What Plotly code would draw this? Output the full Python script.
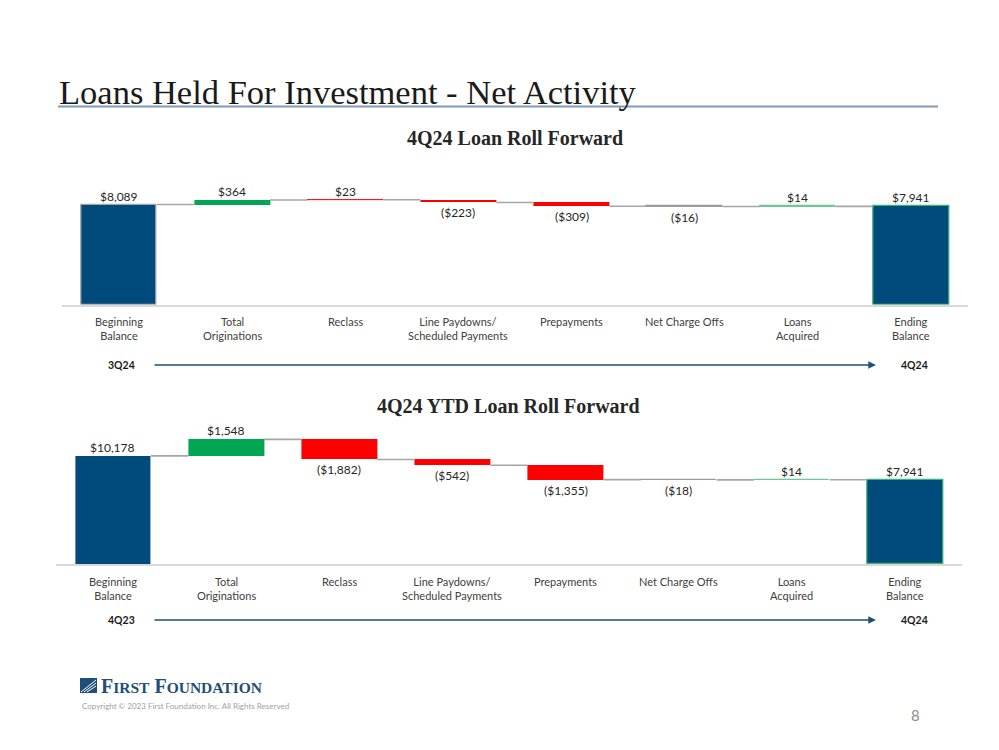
import plotly.graph_objects as go

# ---------------- data ----------------
categories = ["Beginning<br>Balance", "Total<br>Originations", "Reclass",
              "Line Paydowns/<br>Scheduled Payments", "Prepayments",
              "Net Charge Offs", "Loans<br>Acquired", "Ending<br>Balance"]
measures = ["absolute", "relative", "relative", "relative", "relative",
            "relative", "relative", "total"]
q_values = [8089, 364, 23, -223, -309, -16, 14, 7941]
ytd_values = [10178, 1548, -1882, -542, -1355, -18, 14, 7941]
q_period = ("3Q24", "4Q24")
ytd_period = ("4Q23", "4Q24")
q_title = "4Q24 Loan Roll Forward"
ytd_title = "4Q24 YTD Loan Roll Forward"

NAVY = "#004a7c"
GREEN = "#00a651"
RED = "#ff0000"
q_colors = [NAVY, GREEN, RED, RED, RED, RED, GREEN, NAVY]
ytd_colors = [NAVY, GREEN, RED, RED, RED, RED, GREEN, NAVY]
q_outline = ["#a6a6a6", GREEN, RED, RED, RED, "#9a9a9a", "#6cc896", "#3cb371"]
q_outline_w = [1.2, 0, 0.8, 0, 0, 1.2, 1.2, 1.2]
ytd_outline = [NAVY, GREEN, RED, RED, RED, "#9a9a9a", "#6cc896", "#3cb371"]
ytd_outline_w = [0, 0, 0, 0, 0, 1.2, 1.2, 1.2]

W, H = 999, 750
LABEL_FONT = "Lato, Open Sans, sans-serif"


def fmt(v):
    s = "${:,}".format(abs(v))
    return s if v >= 0 else "(" + s + ")"


def py(p):
    return 1 - p / H


def px(p):
    return p / W


fig = go.Figure()
annotations = []
shapes = []


def add_chart(idx, values, colors, outlines, outline_w, xdom, ydom_px, yscale, title, title_x, title_y, period, tl_y):
    xa = "x" if idx == 1 else "x%d" % idx
    ya = "y" if idx == 1 else "y%d" % idx
    xl = "xaxis" if idx == 1 else "xaxis%d" % idx
    yl = "yaxis" if idx == 1 else "yaxis%d" % idx
    bases, heights, cum_after = [], [], []
    cum = 0
    for m, v in zip(measures, values):
        if m in ("absolute", "total"):
            bases.append(0)
            heights.append(v)
            cum = v
        else:
            bases.append(cum if v >= 0 else cum + v)
            heights.append(abs(v))
            cum = cum + v
        cum_after.append(cum)
    xs = list(range(len(values)))
    fig.add_trace(go.Bar(x=xs, y=heights, base=bases, width=0.67,
                         marker=dict(color=colors, line=dict(color=outlines, width=outline_w)),
                         xaxis=xa, yaxis=ya, hoverinfo="skip", showlegend=False))
    cx, cy = [], []
    for i in range(len(values) - 1):
        cx += [i + 0.335, i + 1 - 0.335, None]
        cy += [cum_after[i], cum_after[i], None]
    fig.add_trace(go.Scatter(x=cx, y=cy, mode="lines", line=dict(color="#a6a6a6", width=1.6),
                             xaxis=xa, yaxis=ya, hoverinfo="skip", showlegend=False))
    bottom, top = ydom_px
    fig.layout[xl] = dict(domain=[px(xdom[0]), px(xdom[1])], range=[-0.5, len(values) - 0.5],
                          showgrid=False, zeroline=False, showticklabels=False,
                          showline=True, linecolor="#d9d9d9", linewidth=2,
                          anchor=ya, fixedrange=True)
    fig.layout[yl] = dict(domain=[py(bottom), py(top)], range=[0, (bottom - top) * yscale],
                          showgrid=False, zeroline=False, showticklabels=False,
                          showline=False, anchor=xa, fixedrange=True)
    # data labels
    for i, v in enumerate(values):
        topv = bases[i] + heights[i]
        if measures[i] != "relative" or v >= 0:
            annotations.append(dict(x=i, y=topv, xref=xa, yref=ya, text=fmt(v), showarrow=False,
                                    yanchor="bottom", yshift=-1,
                                    font=dict(family=LABEL_FONT, size=12, color="#262626")))
        else:
            annotations.append(dict(x=i, y=bases[i], xref=xa, yref=ya, text=fmt(v), showarrow=False,
                                    yanchor="top", yshift=-1,
                                    font=dict(family=LABEL_FONT, size=12, color="#262626")))
    # category labels
    for i, c in enumerate(categories):
        annotations.append(dict(x=i, y=py(bottom + 9), xref=xa, yref="paper", text=c, showarrow=False,
                                yanchor="top", font=dict(family=LABEL_FONT, size=11, color="#404040")))
    # chart title
    annotations.append(dict(x=px(title_x), y=py(title_y), xref="paper", yref="paper", text="<b>%s</b>" % title,
                            showarrow=False, xanchor="center", yanchor="middle",
                            font=dict(family="Liberation Serif, serif", size=20, color="#262626")))
    # timeline
    annotations.append(dict(x=px(121), y=py(tl_y), xref="paper", yref="paper", text="<b>%s</b>" % period[0],
                            showarrow=False, xanchor="center", yanchor="middle",
                            font=dict(family=LABEL_FONT, size=10.5, color="#1a1a1a")))
    annotations.append(dict(x=px(914), y=py(tl_y), xref="paper", yref="paper", text="<b>%s</b>" % period[1],
                            showarrow=False, xanchor="center", yanchor="middle",
                            font=dict(family=LABEL_FONT, size=10.5, color="#1a1a1a")))
    annotations.append(dict(x=px(876), y=py(tl_y), xref="paper", yref="paper", text="",
                            showarrow=True, ax=-723, ay=0, arrowhead=2, arrowsize=1.1,
                            arrowwidth=1.4, arrowcolor="#1f4e79", standoff=0))


add_chart(1, q_values, q_colors, q_outline, q_outline_w, (62.4, 967.6), (304.5, 175), 80.9,
          q_title, 515, 138, q_period, 365)
add_chart(2, ytd_values, ytd_colors, ytd_outline, ytd_outline_w, (56.4, 961.6), (564.3, 420), 93.9,
          ytd_title, 509, 406, ytd_period, 620)

# page title & rule
annotations.append(dict(x=px(57), y=py(92), xref="paper", yref="paper",
                        text="Loans Held For Investment - Net Activity", showarrow=False,
                        xanchor="left", yanchor="middle",
                        font=dict(family="Liberation Serif, serif", size=34.5, color="#1a1a1a")))
shapes.append(dict(type="line", xref="paper", yref="paper", x0=px(58), x1=px(938), y0=py(106.5), y1=py(106.5),
                   line=dict(color="#7f9bb3", width=2)))

# logo
shapes.append(dict(type="rect", xref="paper", yref="paper", x0=px(80), x1=px(97), y0=py(693), y1=py(678),
                   fillcolor="#1f4e79", line=dict(width=0)))
for k in range(3):
    shapes.append(dict(type="line", xref="paper", yref="paper",
                       x0=px(81 + k * 3), y0=py(692), x1=px(96), y1=py(680 + k * 3),
                       line=dict(color="white", width=1)))
annotations.append(dict(x=px(99), y=py(686), xref="paper", yref="paper",
                        text="<b>F<span style='font-size:15.5px'>IRST</span> F<span style='font-size:15.5px'>OUNDATION</span></b>",
                        showarrow=False, xanchor="left", yanchor="middle",
                        font=dict(family="Liberation Serif, serif", size=20, color="#1f4e79")))
annotations.append(dict(x=px(80), y=py(706), xref="paper", yref="paper",
                        text="Copyright © 2023 First Foundation Inc. All Rights Reserved", showarrow=False,
                        xanchor="left", yanchor="middle",
                        font=dict(family=LABEL_FONT, size=8, color="#a0a0a0")))
annotations.append(dict(x=px(915), y=py(715), xref="paper", yref="paper", text="8", showarrow=False,
                        xanchor="center", yanchor="middle",
                        font=dict(family=LABEL_FONT, size=15, color="#8c8c8c")))

fig.update_layout(width=W, height=H, margin=dict(l=0, r=0, t=0, b=0),
                  paper_bgcolor="white", plot_bgcolor="white", bargap=0,
                  annotations=annotations, shapes=shapes, showlegend=False)
fig.write_html("out.html", config={"displayModeBar": False},
               post_script="document.body.style.margin='0';document.body.style.overflow='hidden';")
